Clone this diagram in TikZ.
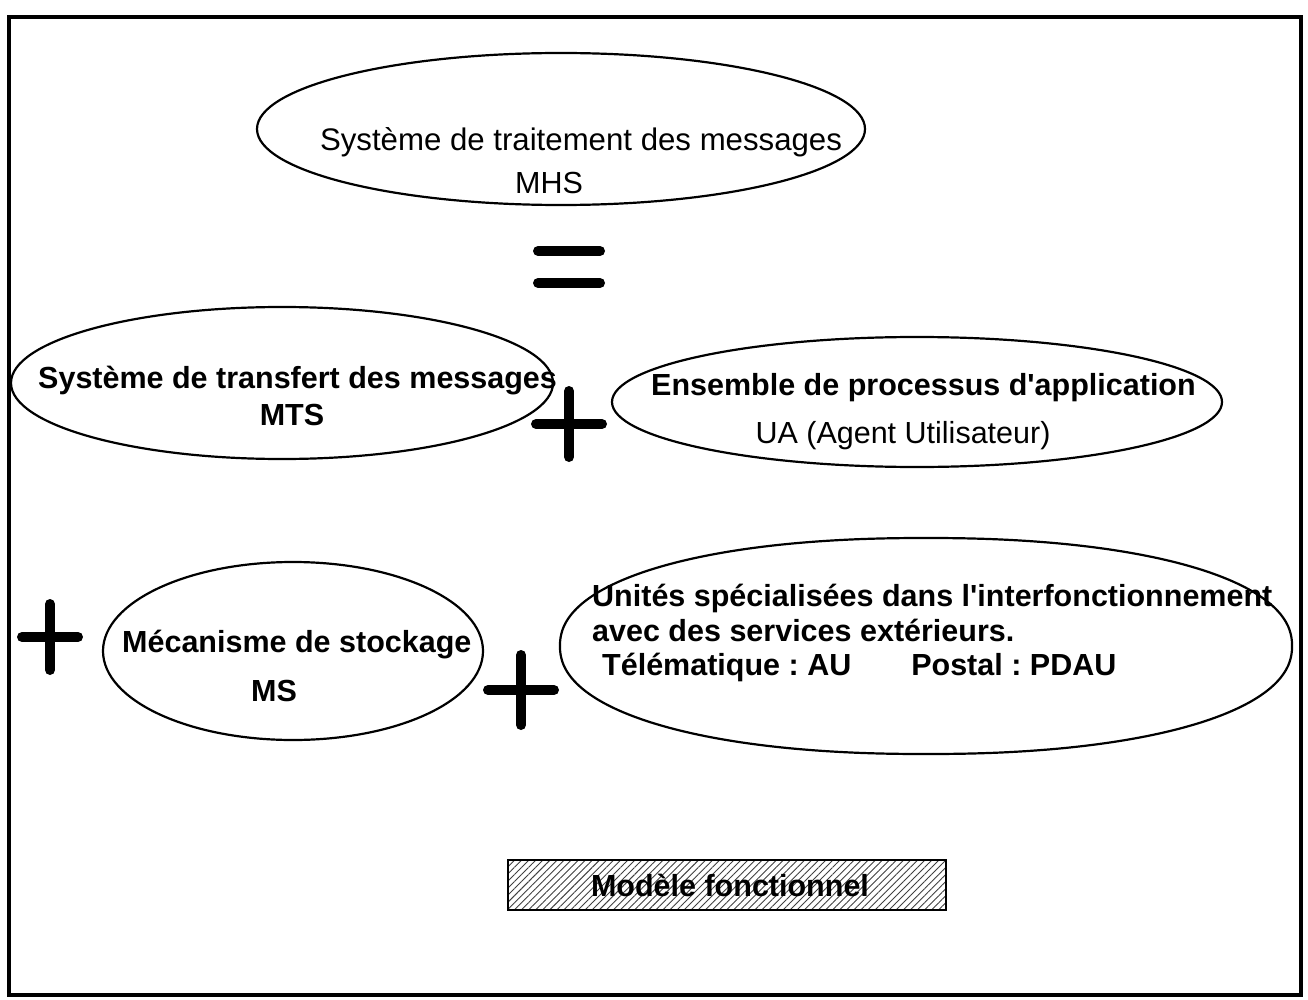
\documentclass[tikz,border=0pt]{standalone}
\usepackage{fontspec}
\setmainfont{Liberation Sans}
\usetikzlibrary{shapes.geometric,patterns.meta}
\frenchspacing
\begin{document}
\begin{tikzpicture}[x=1pt,y=-1pt,
  bubble/.style={ellipse,draw,line width=2.2pt,inner sep=0pt},
  outline/.style={draw,line width=2.2pt},
  lbl/.style={inner sep=0pt,font=\fontsize{30.5}{36}\selectfont},
  blbl/.style={lbl,font=\fontsize{30.5}{36}\selectfont\bfseries},
  plusbar/.style={line width=10pt,line cap=round},
  hatchbox/.style={draw,line width=2pt,pattern={Lines[angle=45,distance=5pt,line width=0.9pt]},pattern color=black!75}]
\useasboundingbox (0,0) rectangle (1308,1000);
% outer frame
\draw[line width=4.5pt] (9,17) rectangle (1301,995);

% message handling system
\node[bubble,minimum width=608pt,minimum height=152pt] (mhs) at (561,129) {};
\node[lbl,anchor=base,font=\fontsize{31.2}{36}\selectfont] (mhsA) at (581,151) {Système de traitement des messages};
\node[lbl,anchor=base] (mhsB) at (549,194) {MHS};

% equals sign
\coordinate (eqL1) at (538,251); \coordinate (eqR1) at (600,251);
\coordinate (eqL2) at (538,283); \coordinate (eqR2) at (600,283);
\draw[plusbar] (eqL1) -- (eqR1);
\draw[plusbar] (eqL2) -- (eqR2);

% message transfer system
\node[bubble,minimum width=542pt,minimum height=152pt] (mts) at (282,383) {};
\node[blbl,anchor=base west] (mtsA) at (38,388) {Système de transfert des messages};
\node[blbl,anchor=base] (mtsB) at (292,425) {MTS};

% plus between MTS and UA
\coordinate (p1) at (569,424);
\draw[plusbar] ([xshift=-33pt]p1) -- ([xshift=33pt]p1);
\draw[plusbar] ([yshift=-33pt]p1) -- ([yshift=33pt]p1);

% user agents
\node[bubble,minimum width=610pt,minimum height=130pt] (ua) at (917,402) {};
\node[blbl,anchor=base west] (uaA) at (651,395) {Ensemble de processus d\textquotesingle application};
\node[lbl,anchor=base] (uaB) at (903,443) {UA (Agent Utilisateur)};

% plus before MS
\coordinate (p2) at (50,637);
\draw[plusbar] ([xshift=-28pt]p2) -- ([xshift=28pt]p2);
\draw[plusbar] ([yshift=-33pt]p2) -- ([yshift=33pt]p2);

% message store
\node[bubble,minimum width=380pt,minimum height=178pt] (ms) at (293,651) {};
\node[blbl,anchor=base west] (msA) at (122,652) {Mécanisme de stockage};
\node[blbl,anchor=base] (msB) at (274,701) {MS};

% plus before access units
\coordinate (p3) at (521,690);
\draw[plusbar] ([xshift=-33pt]p3) -- ([xshift=33pt]p3);
\draw[plusbar] ([yshift=-35pt]p3) -- ([yshift=35pt]p3);

% access units: a slightly full ellipse (superellipse, exponent 2.2)
\coordinate (auc) at (926,646);
\begin{scope}[shift={(auc)}]
  \draw[outline] plot[smooth cycle,domain=1:359,samples=180]
    ({366*sign(cos(\x))*abs(cos(\x))^0.909},{108*sign(sin(\x))*abs(sin(\x))^0.909});
\end{scope}
\node[blbl,anchor=base west] (auA) at (592,606) {Unités spécialisées dans l\textquotesingle interfonctionnement};
\node[blbl,anchor=base west] (auB) at (592,641) {avec des services extérieurs.};
\node[blbl,anchor=base west] (auC) at (602,675) {Télématique : AU\hspace{60pt}Postal : PDAU};

% caption
\node[hatchbox,minimum width=438pt,minimum height=50pt] (cap) at (727,885) {};
\node[blbl,anchor=base] (capT) at (730,896) {Modèle fonctionnel};
\end{tikzpicture}
\end{document}
